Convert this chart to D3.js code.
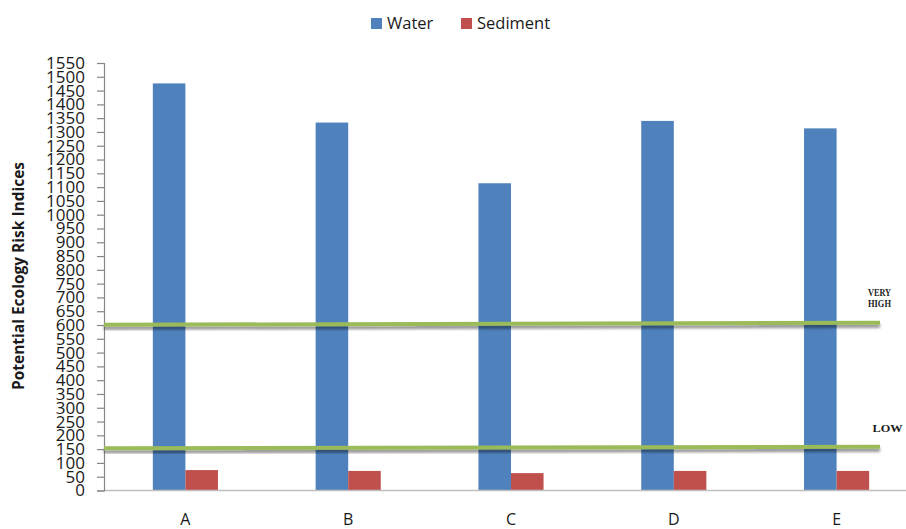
<!DOCTYPE html>
<html>
<head>
<meta charset="utf-8">
<script src="https://cdn.jsdelivr.net/npm/d3@7"></script>
<style>
  html, body { margin: 0; padding: 0; background: #fff; }
  svg { display: block; }
</style>
</head>
<body>
<svg id="chart" width="906" height="529"></svg>
<script>
// Sampling sites
const sites = ["A", "B", "C", "D", "E"];
// Potential ecological risk index per site
const waterRI = [1476, 1334, 1114, 1340, 1313];
const sedimentRI = [74, 71, 63, 71, 71];
const seriesNames = ["Water", "Sediment"];
const seriesColors = ["#4F81BD", "#C0504D"];
// Risk grade reference lines (value at left end, value at right end)
const gradeNames = [["VERY", "HIGH"], ["LOW"]];
const gradeStart = [601, 153];
const gradeEnd = [608, 159];
// Y axis ticks
const yTicks = d3.range(0, 1551, 50);

const svg = d3.select("#chart");
const font = "'Open Sans', 'Liberation Sans', sans-serif";

const plotLeft = 104, plotRight = 918, plotTop = 63, plotBottom = 490.5;

const x = d3.scaleBand().domain(sites).range([plotLeft, plotRight])
  .paddingInner(0.6).paddingOuter(0.3);
const xs = d3.scaleBand().domain(seriesNames).range([0, x.bandwidth()]);
const y = d3.scaleLinear().domain([0, 1550]).range([plotBottom, plotTop]);

const defs = svg.append("defs");
const f = defs.append("filter").attr("id", "shadow")
  .attr("x", "-5%").attr("y", "-300%").attr("width", "110%").attr("height", "700%");
f.append("feGaussianBlur").attr("in", "SourceAlpha").attr("stdDeviation", 1.6).attr("result", "b");
f.append("feOffset").attr("in", "b").attr("dx", 0).attr("dy", 3).attr("result", "o");
f.append("feComponentTransfer").attr("in", "o").attr("result", "s")
  .append("feFuncA").attr("type", "linear").attr("slope", 0.45);
const m = f.append("feMerge");
m.append("feMergeNode").attr("in", "s");
m.append("feMergeNode").attr("in", "SourceGraphic");

// Bars
const rows = sites.map((s, i) => ({ site: s, values: [waterRI[i], sedimentRI[i]] }));
const g = svg.append("g").selectAll("g").data(rows).join("g")
  .attr("transform", d => `translate(${x(d.site)},0)`);
g.selectAll("rect").data(d => d.values.map((v, k) => ({ v, k }))).join("rect")
  .attr("x", d => xs(seriesNames[d.k]))
  .attr("width", xs.bandwidth())
  .attr("y", d => y(d.v))
  .attr("height", d => y(0) - y(d.v))
  .attr("fill", d => seriesColors[d.k]);

// X axis line
svg.append("line")
  .attr("x1", plotLeft).attr("x2", 906).attr("y1", y(0)).attr("y2", y(0))
  .attr("stroke", "#BFBFBF").attr("stroke-width", 1.5);

// Y axis
const yAxis = svg.append("g")
  .attr("transform", `translate(${plotLeft},0)`)
  .call(d3.axisLeft(y).tickValues(yTicks).tickSize(7).tickPadding(12).tickFormat(d3.format("d")));
yAxis.select(".domain").attr("stroke", "#868686").attr("stroke-width", 1.2);
yAxis.selectAll(".tick line").attr("stroke", "#868686").attr("stroke-width", 1.2);
yAxis.selectAll(".tick text")
  .attr("font-family", font).attr("font-size", 17).attr("fill", "#1a1a1a");

// Category labels
svg.append("g").selectAll("text").data(sites).join("text")
  .attr("x", d => x(d) + x.bandwidth() / 2)
  .attr("y", 525)
  .attr("text-anchor", "middle")
  .attr("font-family", font).attr("font-size", 16).attr("fill", "#1a1a1a")
  .text(d => d);

// Risk grade lines
const lineEnd = 880;
gradeStart.forEach((v, i) => {
  svg.append("line")
    .attr("x1", plotLeft).attr("x2", lineEnd)
    .attr("y1", y(v)).attr("y2", y(gradeEnd[i]))
    .attr("stroke", "#9BBB59").attr("stroke-width", 4)
    .attr("filter", "url(#shadow)");
});

// Risk grade labels
const gradeLabelY = [[296, 307], [432]];
const gradeLabelW = [[23, 23], [30]];
gradeNames.forEach((lines, i) => {
  lines.forEach((t, j) => {
    svg.append("text")
      .attr("x", i === 0 ? 868 : 872.5).attr("y", gradeLabelY[i][j])
      .attr("font-family", "'Liberation Serif', 'Times New Roman', serif")
      .attr("font-weight", "bold").attr("font-size", 10.5).attr("fill", "#1a1a1a")
      .attr("textLength", gradeLabelW[i][j]).attr("lengthAdjust", "spacingAndGlyphs")
      .text(t);
  });
});

// Y axis title
svg.append("text")
  .attr("transform", "translate(24,276) rotate(-90)")
  .attr("text-anchor", "middle")
  .attr("font-family", font).attr("font-weight", "bold").attr("font-size", 15.5).attr("fill", "#1a1a1a")
  .text("Potential Ecology Risk Indices");

// Legend
const legendX = [371, 461];
const legend = svg.append("g").selectAll("g").data(seriesNames).join("g")
  .attr("transform", (d, i) => `translate(${legendX[i]},18)`);
legend.append("rect").attr("width", 11).attr("height", 11).attr("fill", (d, i) => seriesColors[i]);
legend.append("text").attr("x", 16).attr("y", 11)
  .attr("font-family", font).attr("font-size", 16.5).attr("fill", "#1a1a1a")
  .text(d => d);
</script>
</body>
</html>
